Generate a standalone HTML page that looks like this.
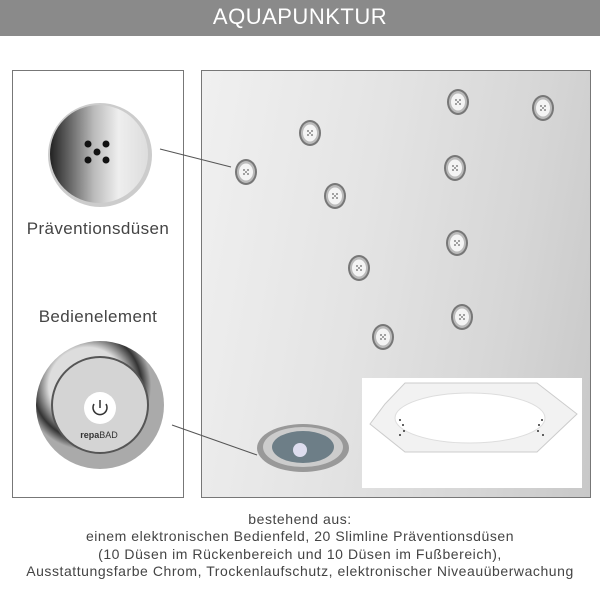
<!DOCTYPE html>
<html><head><meta charset="utf-8"><style>
body{margin:0;width:600px;height:600px;background:#fff;font-family:"Liberation Sans",sans-serif;position:relative;overflow:hidden}
.hdr{position:absolute;left:0;top:0;width:600px;height:36px;background:#8a8a8a;color:#fff;font-size:22px;text-align:center;line-height:33px;letter-spacing:0.5px}
.box{position:absolute;border:1px solid #777;box-sizing:border-box}
.t{position:absolute;color:#444;font-size:17px;text-align:center;letter-spacing:0.4px}
.cap{position:absolute;left:0;width:600px;text-align:center;color:#444;font-size:14px;letter-spacing:0.55px;line-height:17.3px;top:511px}
</style></head><body>
<div class="hdr">AQUAPUNKTUR</div>
<div class="box" style="left:12px;top:70px;width:172px;height:428px"></div>
<div class="box" style="left:201px;top:70px;width:390px;height:428px;background:linear-gradient(100deg,#f0f0f0 0%,#e4e4e4 40%,#d6d6d6 75%,#c8c8c8 100%)"></div>
<svg style="position:absolute;left:0;top:0" width="600" height="600">
<defs>
<linearGradient id="jg" x1="0" x2="1"><stop offset="0" stop-color="#222"/><stop offset=".45" stop-color="#bbb"/><stop offset=".7" stop-color="#eee"/><stop offset="1" stop-color="#ddd"/></linearGradient>
<radialGradient id="ring" cx=".4" cy=".35"><stop offset=".6" stop-color="#ddd"/><stop offset=".85" stop-color="#333"/><stop offset="1" stop-color="#aaa"/></radialGradient>
<g id="nz"><ellipse rx="11" ry="13" fill="#777"/><ellipse rx="9" ry="11" fill="#bbb"/><ellipse rx="7" ry="8.5" fill="#f4f4f4"/><g fill="#666"><circle cx="-2" cy="-2" r=".9"/><circle cx="2" cy="-2" r=".9"/><circle cx="0" cy="0" r=".9"/><circle cx="-2" cy="2" r=".9"/><circle cx="2" cy="2" r=".9"/></g></g>
</defs>
<circle cx="100" cy="155" r="52" fill="#ccc"/>
<circle cx="99" cy="154" r="49" fill="url(#jg)"/>
<g fill="#111"><circle cx="88" cy="144" r="3.5"/><circle cx="106" cy="144" r="3.5"/><circle cx="97" cy="152" r="3.5"/><circle cx="88" cy="160" r="3.5"/><circle cx="106" cy="160" r="3.5"/></g>
<line x1="160" y1="149" x2="231" y2="167" stroke="#555" stroke-width="1"/>
<use href="#nz" x="246" y="172"/>
<use href="#nz" x="310" y="133"/>
<use href="#nz" x="335" y="196"/>
<use href="#nz" x="458" y="102"/>
<use href="#nz" x="543" y="108"/>
<use href="#nz" x="455" y="168"/>
<use href="#nz" x="359" y="268"/>
<use href="#nz" x="457" y="243"/>
<use href="#nz" x="462" y="317"/>
<use href="#nz" x="383" y="337"/>
<circle cx="100" cy="405" r="64" fill="url(#ring)"/>
<circle cx="100" cy="405" r="48" fill="#d4d4d4"/>
<circle cx="100" cy="405" r="48" fill="none" stroke="#555" stroke-width="2"/>
<circle cx="100" cy="408" r="16" fill="#fff"/>
<path d="M94 404 a7 7 0 1 0 12 0" fill="none" stroke="#333" stroke-width="1.5"/>
<line x1="100" y1="400" x2="100" y2="408" stroke="#333" stroke-width="1.5"/>
<text x="99" y="438" font-size="9" text-anchor="middle" fill="#333" font-family="Liberation Sans,sans-serif"><tspan font-weight="bold">repa</tspan>BAD</text>
<line x1="172" y1="425" x2="257" y2="455" stroke="#555"/>
<ellipse cx="303" cy="448" rx="46" ry="24" fill="#999"/>
<ellipse cx="303" cy="447" rx="40" ry="20" fill="#ccc"/>
<ellipse cx="303" cy="447" rx="31" ry="16" fill="#6d7e87"/>
<circle cx="300" cy="450" r="7" fill="#dde"/>
<rect x="362" y="378" width="220" height="110" fill="#fff"/>
<polygon points="385,404 405,383 537,383 577,414 537,452 405,452 370,424" fill="#f2f2f2" stroke="#ccc"/>
<ellipse cx="470" cy="418" rx="75" ry="25" fill="#fff" stroke="#ddd"/>
<g fill="#333"><circle cx="400" cy="420" r="1"/><circle cx="403" cy="425" r="1"/><circle cx="404" cy="431" r="1"/><circle cx="400" cy="435" r="1"/><circle cx="542" cy="420" r="1"/><circle cx="539" cy="425" r="1"/><circle cx="538" cy="431" r="1"/><circle cx="543" cy="435" r="1"/></g>
</svg>
<div class="t" style="left:12px;width:172px;top:219px">Präventionsdüsen</div>
<div class="t" style="left:12px;width:172px;top:307px">Bedienelement</div>
<div class="cap">bestehend aus:<br>einem elektronischen Bedienfeld, 20 Slimline Präventionsdüsen<br>(10 Düsen im Rückenbereich und 10 Düsen im Fußbereich),<br>Ausstattungsfarbe Chrom, Trockenlaufschutz, elektronischer Niveauüberwachung</div>
</body></html>
